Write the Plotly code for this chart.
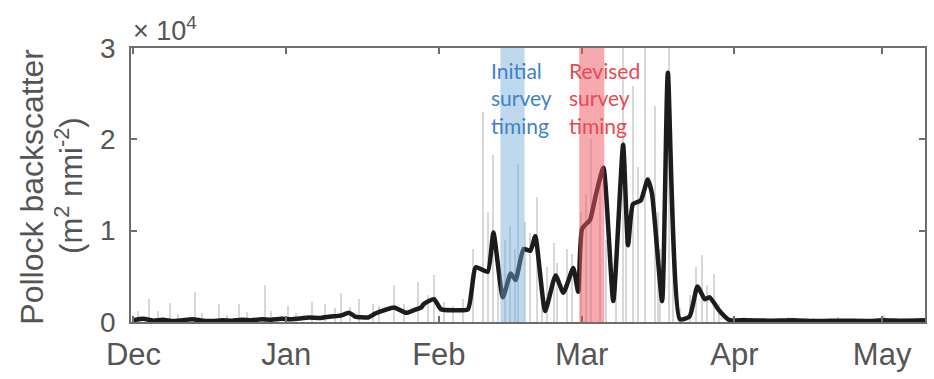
import plotly.graph_objects as go

# Smoothed pollock backscatter (m^2 nmi^-2)
smooth_dates = [
    "2015-12-01", "2015-12-03", "2015-12-05", "2015-12-07", "2015-12-09", "2015-12-11",
    "2015-12-13", "2015-12-15", "2015-12-17", "2015-12-19", "2015-12-21", "2015-12-23",
    "2015-12-25", "2015-12-27", "2015-12-29", "2015-12-31", "2016-01-02", "2016-01-04",
    "2016-01-05 14:00", "2016-01-08", "2016-01-10", "2016-01-12", "2016-01-13 20:00",
    "2016-01-15", "2016-01-17 16:00", "2016-01-19", "2016-01-21", "2016-01-22 22:00",
    "2016-01-25 10:00", "2016-01-27", "2016-01-28 10:00", "2016-01-29", "2016-01-31",
    "2016-02-01 10:00", "2016-02-04", "2016-02-06 22:00", "2016-02-08 12:00",
    "2016-02-10 22:00", "2016-02-12 02:00", "2016-02-14", "2016-02-15 14:00",
    "2016-02-16 14:00", "2016-02-18 05:00", "2016-02-19 14:00", "2016-02-20 14:00",
    "2016-02-22 14:00", "2016-02-24 17:00", "2016-02-26 07:00", "2016-02-28 07:00",
    "2016-02-29 07:00", "2016-03-01 02:00", "2016-03-02 17:00", "2016-03-03 20:00",
    "2016-03-05 10:00", "2016-03-07 10:00", "2016-03-09 10:00", "2016-03-10 10:00",
    "2016-03-11 10:00", "2016-03-13 00:00", "2016-03-14 10:00", "2016-03-15 07:00",
    "2016-03-17 08:00", "2016-03-18 12:00", "2016-03-20 22:00", "2016-03-22 22:00",
    "2016-03-24 12:00", "2016-03-26", "2016-03-27", "2016-03-29", "2016-03-31",
    "2016-04-03", "2016-04-08", "2016-04-13", "2016-04-18", "2016-04-23", "2016-04-28",
    "2016-05-01", "2016-05-05", "2016-05-09 17:00",
]
smooth_vals = [
    200, 350, 150, 250, 100, 200,
    300, 150, 100, 200, 150, 250,
    200, 300, 250, 350, 300, 400,
    500, 450, 600, 700, 1000,
    600, 500, 900, 1300, 1600,
    1000, 1300, 1600, 2000, 2500,
    1400, 1300, 1400, 6000,
    5500, 9800, 2700, 5300,
    4600, 8000, 7800, 9400,
    1200, 5100, 3200, 5900,
    3300, 10200, 11200, 13800,
    16900, 2300, 19400, 8400,
    12900, 13300, 15600, 14000,
    2300, 27300, 300, 600,
    3900, 2500, 2700, 1200, 200,
    200, 150, 200, 100, 150, 100,
    200, 150, 200,
]

# Raw (unsmoothed) backscatter spikes
raw_dates = [
    "2015-12-02", "2015-12-04 06:00", "2015-12-06", "2015-12-08 12:00", "2015-12-10",
    "2015-12-13 12:00", "2015-12-15", "2015-12-18 10:00", "2015-12-20", "2015-12-22 10:00",
    "2015-12-24", "2015-12-27 16:00", "2015-12-29", "2016-01-01 12:00", "2016-01-03",
    "2016-01-06 06:00", "2016-01-09", "2016-01-11", "2016-01-12 06:00", "2016-01-14",
    "2016-01-15 20:00", "2016-01-18 16:00", "2016-01-20", "2016-01-23", "2016-01-25",
    "2016-01-27 20:00", "2016-01-29 20:00", "2016-01-31", "2016-02-02", "2016-02-04",
    "2016-02-06", "2016-02-08", "2016-02-09 22:00", "2016-02-11", "2016-02-12 02:00",
    "2016-02-13", "2016-02-14 12:00", "2016-02-15 12:00", "2016-02-16 12:00",
    "2016-02-17 05:00", "2016-02-18 12:00", "2016-02-19 12:00", "2016-02-21",
    "2016-02-22", "2016-02-23", "2016-02-24 08:00", "2016-02-25", "2016-02-27",
    "2016-02-28", "2016-03-01", "2016-03-02", "2016-03-03", "2016-03-04 17:00",
    "2016-03-06", "2016-03-08", "2016-03-09 10:00", "2016-03-10", "2016-03-11 10:00",
    "2016-03-12 12:00", "2016-03-13 20:00", "2016-03-15 22:00", "2016-03-16 12:00",
    "2016-03-17", "2016-03-18 18:00", "2016-03-19 12:00", "2016-03-21", "2016-03-23",
    "2016-03-24 08:00", "2016-03-25 12:00", "2016-03-26 12:00", "2016-03-27 20:00",
    "2016-03-29", "2016-03-31 06:00", "2016-04-03", "2016-04-07", "2016-04-12",
    "2016-04-17", "2016-04-22", "2016-04-27", "2016-05-01 08:00", "2016-05-06",
]
raw_vals = [
    1200, 2500, 1200, 2100, 900,
    3300, 1000, 2000, 800, 2000,
    1100, 4100, 1200, 1800, 1000,
    2200, 2000, 1500, 3200, 1600,
    2500, 2000, 1800, 4100, 2000,
    4400, 3000, 5100, 2200, 1800,
    2500, 8000, 23000, 12000, 18300,
    7000, 9000, 10500, 8000,
    17300, 11000, 9700, 13700,
    4000, 6000, 8700, 6500, 8000,
    7500, 12000, 14000, 20000, 16000,
    9000, 6000, 30000, 15000, 25800,
    17000, 30000, 23600, 12000,
    8000, 30000, 10000, 1500, 3000,
    6000, 7300, 4000, 5300,
    2000, 600, 500, 400, 600,
    400, 500, 400, 800, 400,
]

month_ticks = ["2015-12-01", "2016-01-01", "2016-02-01", "2016-03-01", "2016-04-01", "2016-05-01"]
month_labels = ["Dec", "Jan", "Feb", "Mar", "Apr", "May"]
y_ticks = [0, 10000, 20000, 30000]
y_labels = ["0", "1", "2", "3"]

initial_survey = ["2016-02-13 12:00", "2016-02-18 10:00"]
revised_survey = ["2016-02-29 12:00", "2016-03-05 14:00"]

AX = "#6e6e6e"
TXT = "#555555"
FONT = "Liberation Sans, Arial, sans-serif"

fig = go.Figure()
fig.add_trace(go.Bar(
    x=raw_dates, y=raw_vals, width=26_000_000,
    marker=dict(color="#d8d8d8", line=dict(width=0)),
    showlegend=False,
))
fig.add_trace(go.Scatter(
    x=smooth_dates, y=smooth_vals, mode="lines",
    line=dict(color="#1c1c1c", width=4.5, shape="spline", smoothing=0.5),
    showlegend=False,
))

for (a, b), col in [(initial_survey, "rgba(110,168,218,0.45)"), (revised_survey, "rgba(238,85,95,0.5)")]:
    fig.add_shape(type="rect", xref="x", yref="paper", x0=a, x1=b, y0=0, y1=1,
                  fillcolor=col, line=dict(width=0), layer="above")

fig.add_annotation(xref="paper", yref="paper", x=0.451, y=0.816, xanchor="left", yanchor="middle",
                   text="Initial<br>survey<br>timing", showarrow=False, align="left",
                   font=dict(family="Lato, sans-serif", size=21, color="#3f82c6"))
fig.add_annotation(xref="paper", yref="paper", x=0.549, y=0.816, xanchor="left", yanchor="middle",
                   text="Revised<br>survey<br>timing", showarrow=False, align="left",
                   font=dict(family="Lato, sans-serif", size=21, color="#e64a54"))

fig.add_annotation(xref="paper", yref="paper", x=0.0, y=1.07, xanchor="left", yanchor="middle",
                   text="× 10<sup>4</sup>", showarrow=False,
                   font=dict(family=FONT, size=27, color=TXT))
fig.add_annotation(xref="paper", yref="paper", x=-0.125, y=0.493, xanchor="center", yanchor="middle",
                   text="Pollock backscatter", textangle=-90, showarrow=False,
                   font=dict(family=FONT, size=32, color=TXT))
fig.add_annotation(xref="paper", yref="paper", x=-0.078, y=0.497, xanchor="center", yanchor="middle",
                   text="(m<sup>2</sup> nmi<sup>-2</sup>)", textangle=-90, showarrow=False,
                   font=dict(family=FONT, size=31, color=TXT))

fig.update_layout(
    width=934, height=379,
    margin=dict(l=131, r=7, t=48, b=51),
    paper_bgcolor="white", plot_bgcolor="white",
    bargap=0,
    xaxis=dict(
        type="date", range=["2015-11-30 12:00", "2016-05-09 17:00"],
        tickvals=month_ticks, ticktext=month_labels,
        ticks="inside", ticklen=6, tickcolor=AX, tickwidth=1.5,
        showline=True, linecolor=AX, linewidth=1.5, mirror="ticks",
        showgrid=False, zeroline=False,
        tickfont=dict(family=FONT, size=31, color=TXT),
        ticklabelstandoff=4,
    ),
    yaxis=dict(
        range=[0, 30000],
        tickvals=y_ticks, ticktext=y_labels,
        ticks="inside", ticklen=6, tickcolor=AX, tickwidth=1.5,
        showline=True, linecolor=AX, linewidth=1.5, mirror="ticks",
        showgrid=False, zeroline=False,
        tickfont=dict(family=FONT, size=28, color=TXT),
        ticklabelstandoff=8,
    ),
)

fig.write_html("out.html")
